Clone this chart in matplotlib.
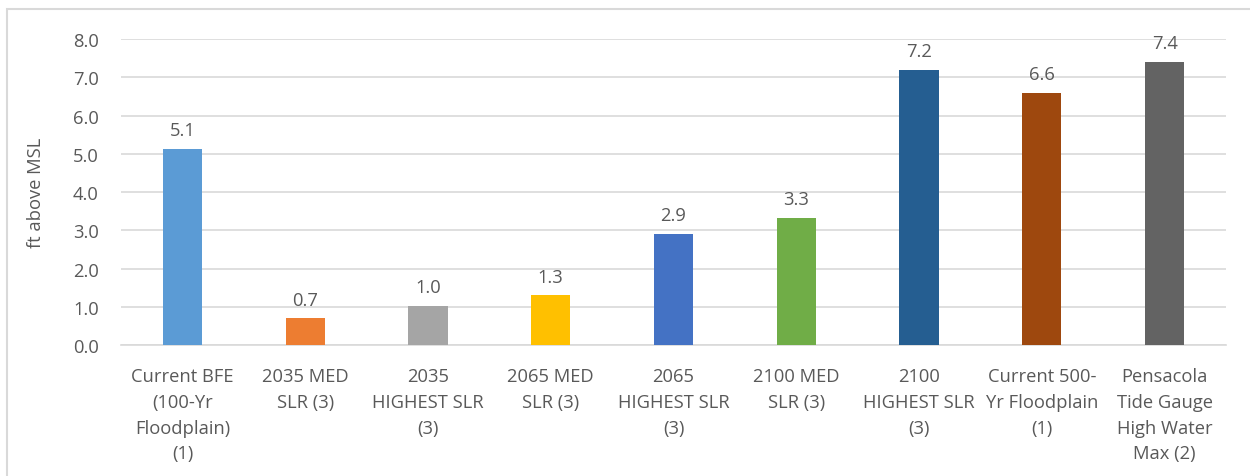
import matplotlib
matplotlib.use("Agg")
import matplotlib.pyplot as plt
from matplotlib.patches import Rectangle

CATEGORIES = [
    "Current BFE\n(100-Yr\nFloodplain)\n(1)",
    "2035 MED\nSLR (3)",
    "2035\nHIGHEST SLR\n(3)",
    "2065 MED\nSLR (3)",
    "2065\nHIGHEST SLR\n(3)",
    "2100 MED\nSLR (3)",
    "2100\nHIGHEST SLR\n(3)",
    "Current 500-\nYr Floodplain\n(1)",
    "Pensacola\nTide Gauge\nHigh Water\nMax (2)",
]
VALUES = [5.12, 0.7, 1.02, 1.3, 2.9, 3.32, 7.2, 6.6, 7.4]
LABELS = ["5.1", "0.7", "1.0", "1.3", "2.9", "3.3", "7.2", "6.6", "7.4"]
COLORS = ["#5B9BD5", "#ED7D31", "#A5A5A5", "#FFC000", "#4472C4",
          "#70AD47", "#255E91", "#9E480E", "#636363"]
Y_TICKS = [0, 1, 2, 3, 4, 5, 6, 7, 8]

TEXT = "#595959"
GRID = "#D9D9D9"
FS = 13.2

plt.rcParams["font.family"] = ["Open Sans", "DejaVu Sans"]

fig = plt.figure(figsize=(12.5, 4.77), dpi=100)
ax = fig.add_axes([0.0968, 0.2746, 0.884, 0.6415])

x = list(range(len(CATEGORIES)))
bars = ax.bar(x, VALUES, width=0.32, color=COLORS, zorder=3)
for rect, text in zip(bars, LABELS):
    ax.annotate(text, (rect.get_x() + rect.get_width() / 2, rect.get_height()),
                xytext=(0, 7), textcoords="offset points", ha="center", va="bottom",
                fontsize=FS, color=TEXT)

ax.set_xlim(-0.5, len(CATEGORIES) - 0.5)
ax.set_ylim(0, 8)
ax.set_yticks(Y_TICKS, [f"{v:.1f}" for v in Y_TICKS])
ax.set_xticks(x, CATEGORIES)
for lbl in ax.get_xticklabels():
    lbl.set_linespacing(1.55)
ax.tick_params(axis="both", length=0, colors=TEXT, labelsize=FS)
ax.tick_params(axis="y", pad=16)
ax.tick_params(axis="x", pad=16)
ax.grid(True, axis="y", color=GRID, linewidth=1.2, zorder=0)
for side in ("top", "right", "left"):
    ax.spines[side].set_visible(False)
ax.spines["bottom"].set_color(GRID)
ax.spines["bottom"].set_linewidth(1.2)
ax.set_ylabel("ft above MSL", color=TEXT, fontsize=FS, labelpad=20)

# chart-area border (only top and left edges fall inside the picture)
fig.patches.append(Rectangle((7 / 1250, -0.1), 1.1, 1 - 10 / 477 + 0.1,
                             transform=fig.transFigure, fill=False,
                             edgecolor=GRID, linewidth=1.5))

fig.savefig("out.png", dpi=100)
